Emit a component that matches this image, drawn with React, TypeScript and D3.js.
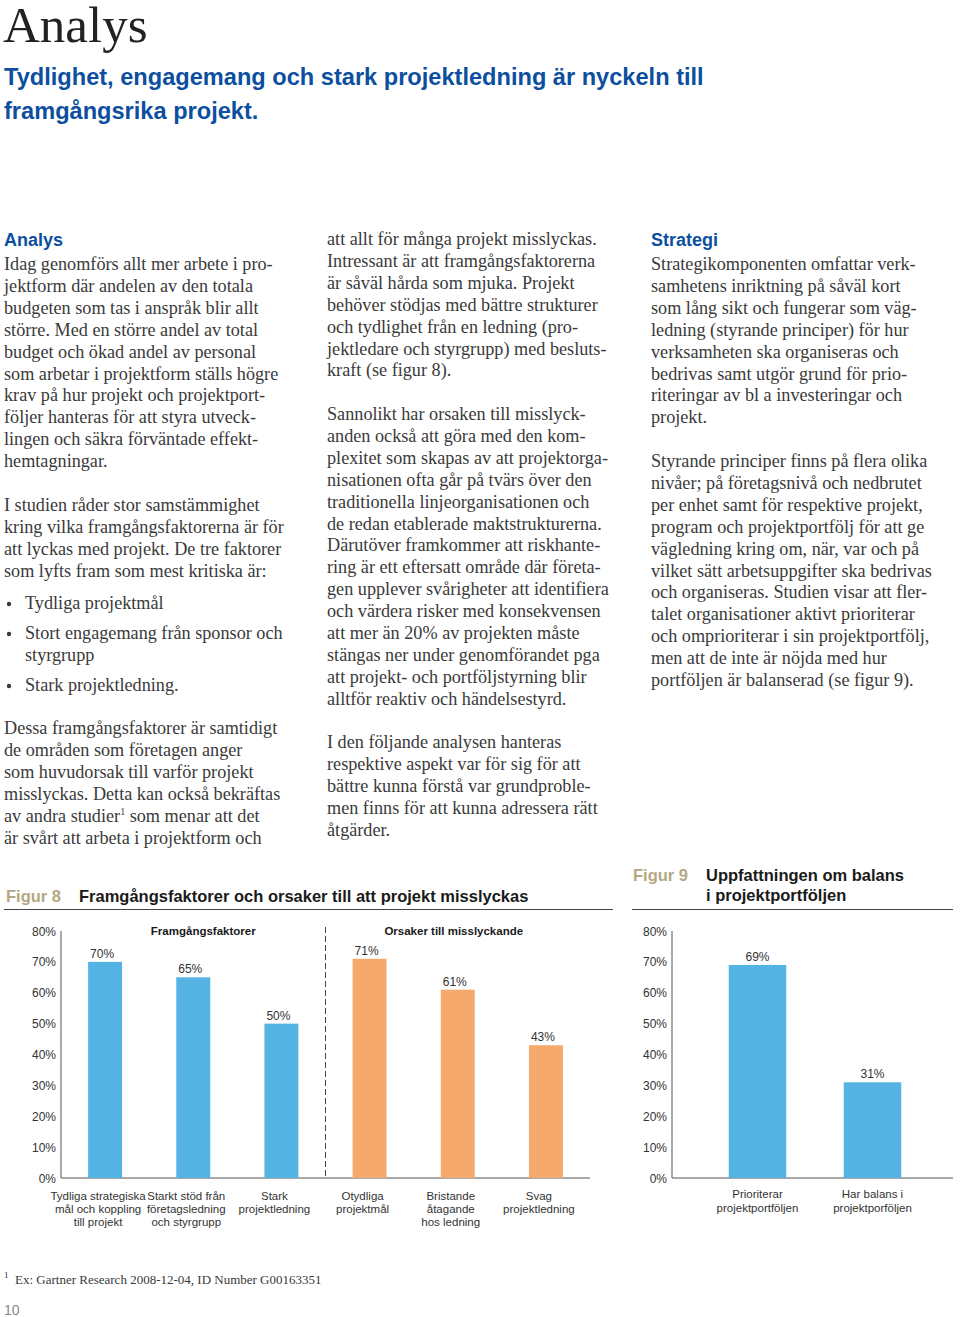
import React from "react";
import * as d3 from "d3";

// ---------- Data ----------
const fig8Categories = [
  ["Tydliga strategiska", "mål och koppling", "till projekt"],
  ["Starkt stöd från", "företagsledning", "och styrgrupp"],
  ["Stark", "projektledning"],
  ["Otydliga", "projektmål"],
  ["Bristande", "åtagande", "hos ledning"],
  ["Svag", "projektledning"],
];
const fig8Values = [0.7, 0.65, 0.5, 0.71, 0.61, 0.43];
const fig8Groups = ["success", "success", "success", "failure", "failure", "failure"];
const fig8GroupTitles = ["Framgångsfaktorer", "Orsaker till misslyckande"];

const fig9Categories = [
  ["Prioriterar", "projektportföljen"],
  ["Har balans i", "projektporföljen"],
];
const fig9Values = [0.69, 0.31];

const yTicks = [0, 0.1, 0.2, 0.3, 0.4, 0.5, 0.6, 0.7, 0.8];

// ---------- Text ----------
const col1Para1 = [
  "Idag genomförs allt mer arbete i pro-",
  "jektform där andelen av den totala",
  "budgeten som tas i anspråk blir allt",
  "större. Med en större andel av total",
  "budget och ökad andel av personal",
  "som arbetar i projektform ställs högre",
  "krav på hur projekt och projektport-",
  "följer hanteras för att styra utveck-",
  "lingen och säkra förväntade effekt-",
  "hemtagningar.",
];
const col1Para2 = [
  "I studien råder stor samstämmighet",
  "kring vilka framgångsfaktorerna är för",
  "att lyckas med projekt. De tre faktorer",
  "som lyfts fram som mest kritiska är:",
];
const col1Bullets = [
  ["Tydliga projektmål"],
  ["Stort engagemang från sponsor och", "styrgrupp"],
  ["Stark projektledning."],
];
const col1Para3 = [
  "Dessa framgångsfaktorer är samtidigt",
  "de områden som företagen anger",
  "som huvudorsak till varför projekt",
  "misslyckas. Detta kan också bekräftas",
  "av andra studier¹ som menar att det",
  "är svårt att arbeta i projektform och",
];
const col2Para1 = [
  "att allt för många projekt misslyckas.",
  "Intressant är att framgångsfaktorerna",
  "är såväl hårda som mjuka. Projekt",
  "behöver stödjas med bättre strukturer",
  "och tydlighet från en ledning (pro-",
  "jektledare och styrgrupp) med besluts-",
  "kraft (se figur 8).",
];
const col2Para2 = [
  "Sannolikt har orsaken till misslyck-",
  "anden också att göra med den kom-",
  "plexitet som skapas av att projektorga-",
  "nisationen ofta går på tvärs över den",
  "traditionella linjeorganisationen och",
  "de redan etablerade maktstrukturerna.",
  "Därutöver framkommer att riskhante-",
  "ring är ett eftersatt område där företa-",
  "gen upplever svårigheter att identifiera",
  "och värdera risker med konsekvensen",
  "att mer än 20% av projekten måste",
  "stängas ner under genomförandet pga",
  "att projekt- och portföljstyrning blir",
  "alltför reaktiv och händelsestyrd.",
];
const col2Para3 = [
  "I den följande analysen hanteras",
  "respektive aspekt var för sig för att",
  "bättre kunna förstå var grundproble-",
  "men finns för att kunna adressera rätt",
  "åtgärder.",
];
const col3Para1 = [
  "Strategikomponenten omfattar verk-",
  "samhetens inriktning på såväl kort",
  "som lång sikt och fungerar som väg-",
  "ledning (styrande principer) för hur",
  "verksamheten ska organiseras och",
  "bedrivas samt utgör grund för prio-",
  "riteringar av bl a investeringar och",
  "projekt.",
];
const col3Para2 = [
  "Styrande principer finns på flera olika",
  "nivåer; på företagsnivå och nedbrutet",
  "per enhet samt för respektive projekt,",
  "program och projektportfölj för att ge",
  "vägledning kring om, när, var och på",
  "vilket sätt arbetsuppgifter ska bedrivas",
  "och organiseras. Studien visar att fler-",
  "talet organisationer aktivt prioriterar",
  "och omprioriterar i sin projektportfölj,",
  "men att de inte är nöjda med hur",
  "portföljen är balanserad (se figur 9).",
];

// ---------- Styles ----------
const SERIF = "'Liberation Serif', 'Times New Roman', serif";
const SANS = "'Liberation Sans', Arial, Helvetica, sans-serif";
const BLUE_TXT = "#0d4f9f";
const BODY = "#3a3a3a";
const BAR_BLUE = "#55b3e4";
const BAR_ORANGE = "#f6a96c";
const KHAKI = "#b3a882";
const LH = 21.9;
const BODY_SIZE = 18.2;

function Para({ lines, x, y }: { lines: string[]; x: number; y: number }) {
  return (
    <g>
      {lines.map((l, i) => {
        const parts = l.split("¹");
        return (
          <text key={i} x={x} y={y + i * LH} fontFamily={SERIF} fontSize={BODY_SIZE} fill={BODY}>
            {parts.length > 1 ? (
              <>
                {parts[0]}
                <tspan fontSize={10} dy={-7}>1</tspan>
                <tspan dy={7}>{parts[1]}</tspan>
              </>
            ) : (
              l
            )}
          </text>
        );
      })}
    </g>
  );
}

const pct = (v: number) => `${Math.round(v * 100)}%`;

function YAxis({ y, x }: { y: d3.ScaleLinear<number, number>; x: number }) {
  return (
    <g>
      <line x1={x} x2={x} y1={y(0.8)} y2={y(0)} stroke="#555" strokeWidth={1} />
      {yTicks.map((t) => (
        <text key={t} x={x - 5} y={y(t) + 4.5} textAnchor="end" fontFamily={SANS} fontSize={12} fill="#333">
          {pct(t)}
        </text>
      ))}
    </g>
  );
}

export default function App() {
  // Figure 8 scales
  const y8 = d3.scaleLinear().domain([0, 0.8]).range([1178, 931]);
  const x8 = d3
    .scaleBand<number>()
    .domain(d3.range(fig8Values.length))
    .range([61, 590])
    .paddingInner(0.615)
    .paddingOuter(0.3075);
  const y9 = d3.scaleLinear().domain([0, 0.8]).range([1178, 931]);
  const x9 = d3
    .scaleBand<number>()
    .domain(d3.range(fig9Values.length))
    .range([700, 930])
    .paddingInner(0.5)
    .paddingOuter(0.25);

  const dividerX = (x8(2)! + x8.bandwidth() + x8(3)!) / 2;
  const groupTitleX = [x8(1)! + x8.bandwidth() / 2 + 10, x8(4)! + x8.bandwidth() / 2 - 4];

  return (
    <svg
      width={960}
      height={1317}
      style={{ position: "absolute", left: 0, top: 0, background: "#fff" }}
    >
      <rect width={960} height={1317} fill="#fff" />
      {/* Header */}
      <text x={3} y={42} fontFamily={SERIF} fontSize={51} fill="#222">Analys</text>
      <text x={4} y={85} fontFamily={SANS} fontWeight="bold" fontSize={23.6} fill={BLUE_TXT}>
        Tydlighet, engagemang och stark projektledning är nyckeln till
      </text>
      <text x={4} y={119} fontFamily={SANS} fontWeight="bold" fontSize={23.6} fill={BLUE_TXT}>
        framgångsrika projekt.
      </text>

      {/* Column 1 */}
      <text x={4} y={246} fontFamily={SANS} fontWeight="bold" fontSize={18} fill={BLUE_TXT}>Analys</text>
      <Para lines={col1Para1} x={4} y={270} />
      <Para lines={col1Para2} x={4} y={511} />
      {(() => {
        const ys = [609, 639, 691];
        return col1Bullets.map((b, i) => (
          <g key={i}>
            <circle cx={9} cy={ys[i] - 5} r={2.2} fill={BODY} />
            <Para lines={b} x={25} y={ys[i]} />
          </g>
        ));
      })()}
      <Para lines={col1Para3} x={4} y={734} />

      {/* Column 2 */}
      <Para lines={col2Para1} x={327} y={245} />
      <Para lines={col2Para2} x={327} y={420} />
      <Para lines={col2Para3} x={327} y={748} />

      {/* Column 3 */}
      <text x={651} y={246} fontFamily={SANS} fontWeight="bold" fontSize={18} fill={BLUE_TXT}>Strategi</text>
      <Para lines={col3Para1} x={651} y={270} />
      <Para lines={col3Para2} x={651} y={467} />

      {/* Figure 8 header */}
      <text x={6} y={902} fontFamily={SANS} fontWeight="bold" fontSize={16.5} fill={KHAKI}>Figur 8</text>
      <text x={79} y={902} fontFamily={SANS} fontWeight="bold" fontSize={16.5} fill="#1a1a1a">
        Framgångsfaktorer och orsaker till att projekt misslyckas
      </text>
      <line x1={4} x2={613} y1={909.5} y2={909.5} stroke="#444" strokeWidth={1.2} />

      {/* Figure 8 chart */}
      <YAxis y={y8} x={61} />
      <line x1={61} x2={590} y1={y8(0)} y2={y8(0)} stroke="#555" strokeWidth={1} />
      <line x1={dividerX} x2={dividerX} y1={927} y2={y8(0)} stroke="#444" strokeWidth={1} strokeDasharray="6,3" />
      {fig8GroupTitles.map((t, i) => (
        <text
          key={t}
          x={groupTitleX[i]}
          y={935}
          textAnchor="middle"
          fontFamily={SANS}
          fontWeight="bold"
          fontSize={11.5}
          fill="#1a1a1a"
        >
          {t}
        </text>
      ))}
      {fig8Values.map((v, i) => (
        <g key={i}>
          <rect
            x={x8(i)}
            y={y8(v)}
            width={x8.bandwidth()}
            height={y8(0) - y8(v)}
            fill={fig8Groups[i] === "success" ? BAR_BLUE : BAR_ORANGE}
          />
          <text x={x8(i)! + x8.bandwidth() / 2 - 3} y={y8(v) - 4} textAnchor="middle" fontFamily={SANS} fontSize={12} fill="#333">
            {pct(v)}
          </text>
          {fig8Categories[i].map((l, j) => (
            <text
              key={j}
              x={x8(i)! + x8.bandwidth() / 2 - 7}
              y={1200 + j * 13}
              textAnchor="middle"
              fontFamily={SANS}
              fontSize={11.5}
              fill="#333"
            >
              {l}
            </text>
          ))}
        </g>
      ))}

      {/* Figure 9 header */}
      <text x={633} y={881} fontFamily={SANS} fontWeight="bold" fontSize={16.5} fill={KHAKI}>Figur 9</text>
      <text x={706} y={881} fontFamily={SANS} fontWeight="bold" fontSize={16.5} fill="#1a1a1a">Uppfattningen om balans</text>
      <text x={706} y={901} fontFamily={SANS} fontWeight="bold" fontSize={16.5} fill="#1a1a1a">i projektportföljen</text>
      <line x1={632} x2={953} y1={909.5} y2={909.5} stroke="#444" strokeWidth={1.2} />

      {/* Figure 9 chart */}
      <YAxis y={y9} x={672} />
      <line x1={672} x2={953} y1={y9(0)} y2={y9(0)} stroke="#555" strokeWidth={1} />
      {fig9Values.map((v, i) => (
        <g key={i}>
          <rect x={x9(i)} y={y9(v)} width={x9.bandwidth()} height={y9(0) - y9(v)} fill={BAR_BLUE} />
          <text x={x9(i)! + x9.bandwidth() / 2} y={y9(v) - 4} textAnchor="middle" fontFamily={SANS} fontSize={12} fill="#333">
            {pct(v)}
          </text>
          {fig9Categories[i].map((l, j) => (
            <text
              key={j}
              x={x9(i)! + x9.bandwidth() / 2}
              y={1198 + j * 14}
              textAnchor="middle"
              fontFamily={SANS}
              fontSize={11.5}
              fill="#333"
            >
              {l}
            </text>
          ))}
        </g>
      ))}

      {/* Footnote */}
      <text x={4} y={1278} fontFamily={SERIF} fontSize={9} fill={BODY}>1</text>
      <text x={15} y={1284} fontFamily={SERIF} fontSize={13} fill={BODY}>
        Ex: Gartner Research 2008-12-04, ID Number G00163351
      </text>
      <text x={4} y={1315} fontFamily={SANS} fontSize={14} fill="#888">10</text>
    </svg>
  );
}
